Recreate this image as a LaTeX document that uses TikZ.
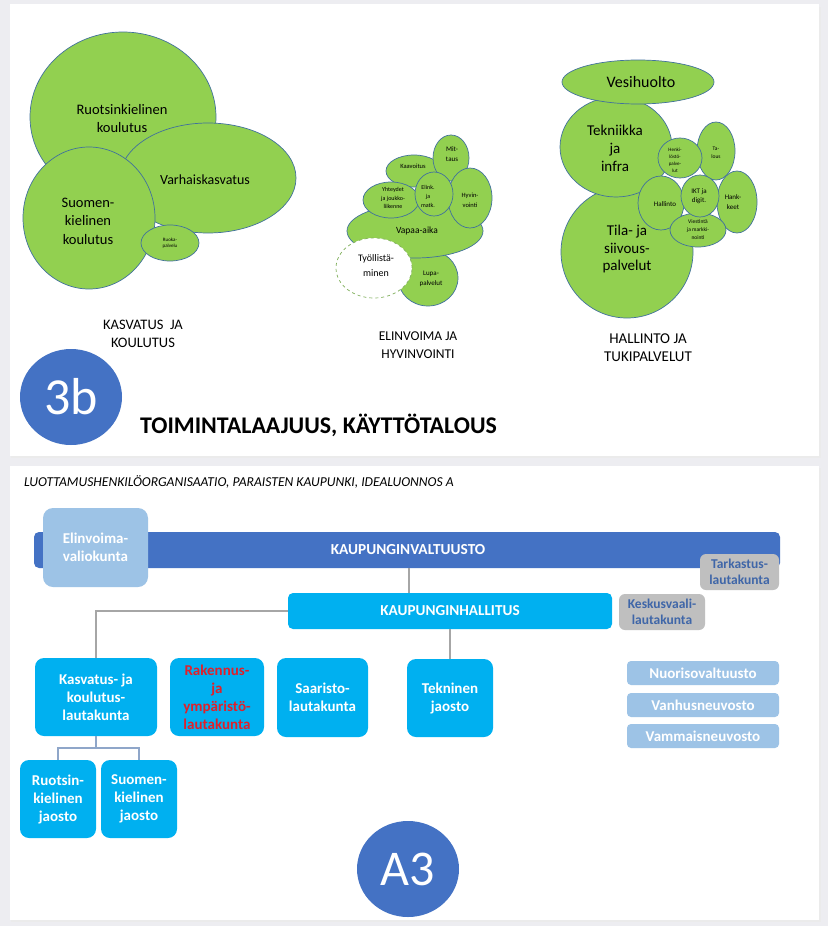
\documentclass[tikz,border=0pt]{standalone}
\usepackage{fontspec}
\setmainfont{Carlito}
\usetikzlibrary{shapes.geometric}
\definecolor{bg}{HTML}{EDEDF1}
\definecolor{leaf}{HTML}{92D050}
\definecolor{leafline}{HTML}{41719C}
\definecolor{accent}{HTML}{4472C4}
\definecolor{sky}{HTML}{00B0F0}
\definecolor{pale}{HTML}{9DC3E6}
\definecolor{greybox}{HTML}{BFBFBF}
\definecolor{greytext}{HTML}{3F66A8}
\definecolor{redtext}{HTML}{E0202A}
\definecolor{connA}{HTML}{A6A6A6}
\definecolor{connB}{HTML}{8FA6C9}
\definecolor{dashline}{HTML}{7FAF5A}
\newcommand\fsz[2]{\fontsize{#1}{#2}\selectfont}
\newcommand\blob[5]{\node[blob,minimum width=#4pt,minimum height=#5pt] (#1) at (#2,#3) {};}
\begin{document}
\begin{tikzpicture}[x=1pt,y=-1pt,
  blob/.style={ellipse,draw=leafline,fill=leaf,line width=0.7pt,inner sep=0pt},
  dblob/.style={ellipse,draw=dashline,fill=white,dashed,line width=0.7pt,inner sep=0pt},
  txt/.style={align=center,inner sep=0pt,text=black},
  panel/.style={fill=white,draw=none},
  orgbox/.style={rounded corners=9pt,fill=sky,inner sep=0pt,align=center,text=white,font=\bfseries\fsz{15}{18}},
  palebox/.style={rounded corners=4pt,fill=pale,inner sep=0pt,align=center,text=white,font=\bfseries\fsz{15}{18}},
  greyb/.style={rounded corners=6pt,fill=greybox,inner sep=0pt,align=center,text=greytext,font=\bfseries\fsz{13.5}{16}},
  connA/.style={draw=connA,line width=1.1pt},
  connB/.style={draw=connB,line width=1.1pt},
  badge/.style={ellipse,fill=accent,inner sep=0pt,text=white}]
\useasboundingbox (0,0) rectangle (828,926);
\fill[bg] (0,0) rectangle (828,926);
\fill[black!8] (11,7) rectangle (821,458);
\fill[black!8] (11,468) rectangle (821,922);
\node[panel,anchor=north west,minimum width=809pt,minimum height=452pt,inner sep=0pt] (toppanel) at (10,4) {};
\node[panel,anchor=north west,minimum width=809pt,minimum height=454pt,inner sep=0pt] (botpanel) at (10,466) {};

% ---------- left cluster
\blob{ruotk}{123}{117}{186}{170}
\blob{varh}{208}{178}{176}{110}
\blob{suomk}{89}{218}{132}{142}
\blob{ruoka}{170}{243}{58}{36}
\node[txt,font=\fsz{14.5}{18}] (t-ruotk) at (122,119) {Ruotsinkielinen\\koulutus};
\node[txt,font=\fsz{14}{18}] (t-varh) at (205,180) {Varhaiskasvatus};
\node[txt,font=\fsz{14.5}{18.5}] (t-suomk) at (88,221) {Suomen-\\kielinen\\koulutus};
\node[txt,font=\fsz{5}{6}] (t-ruoka) at (170,243) {Ruoka-\\palvelu};
\node[txt,font=\fsz{14.5}{18}] (l-kasv) at (143,334) {KASVATUS\ \ JA\\KOULUTUS};

% ---------- middle cluster
\blob{lupa}{428}{278}{60}{56}
\blob{vapaa}{415}{231}{136}{54}
\blob{kaav}{414}{171}{56}{32}
\blob{mitt}{451}{158}{36}{46}
\blob{hyvin}{470}{198}{44}{60}
\blob{yht}{391}{200}{56}{36}
\blob{elink}{434}{194}{38}{44}
\node[dblob,minimum width=76pt,minimum height=60pt] (tyoll) at (374,268) {};
\node[txt,font=\fsz{7}{10}] (t-mitt) at (452,154) {Mit-\\taus};
\node[txt,font=\fsz{6.5}{8}] (t-kaav) at (413,166) {Kaavoitus};
\node[txt,font=\fsz{6}{9}] (t-elink) at (428,196) {Elink.\\ja\\matk.};
\node[txt,font=\fsz{6}{8.7}] (t-yht) at (393,198) {Yhteydet\\ja joukko-\\liikenne};
\node[txt,font=\fsz{6.5}{10}] (t-hyvin) at (470,200) {Hyvin-\\vointi};
\node[txt,font=\fsz{9.5}{12}] (t-vapaa) at (417,231) {Vapaa-aika};
\node[txt,font=\fsz{7}{10}] (t-lupa) at (431,279) {Lupa-\\palvelut};
\node[txt,font=\fsz{10}{15}] (t-tyoll) at (376,266) {Työllistä-\\minen};
\node[txt,font=\fsz{13.5}{18}] (l-elin) at (418,345) {ELINVOIMA JA\\HYVINVOINTI};

% ---------- right cluster
\blob{tila}{627}{252}{132}{132}
\blob{tekn}{616}{147}{112}{100}
\blob{vesi}{638}{82}{152}{44}
\blob{halli}{661}{203}{46}{54}
\blob{talous}{716}{151}{38}{58}
\blob{hank}{737}{202}{40}{62}
\blob{henki}{680}{158}{44}{40}
\blob{viest}{698}{230}{56}{34}
\blob{ikt}{700}{196}{38}{42}
\node[txt,font=\fsz{16}{18}] (t-vesi) at (641,82) {Vesihuolto};
\node[txt,font=\fsz{15}{18}] (t-tekn) at (615,148) {Tekniikka\\ja\\infra};
\node[txt,font=\fsz{15}{17.5}] (t-tila) at (627,249) {Tila- ja\\siivous-\\palvelut};
\node[txt,font=\fsz{7}{9}] (t-halli) at (665,204) {Hallinto};
\node[txt,font=\fsz{5}{7}] (t-henki) at (675,160) {Henki-\\löstö-\\palve-\\lut};
\node[txt,font=\fsz{5.5}{8}] (t-talous) at (716,153) {Ta-\\lous};
\node[txt,font=\fsz{7}{10}] (t-hank) at (733,202) {Hank-\\keet};
\node[txt,font=\fsz{7}{9}] (t-ikt) at (699,196) {IKT ja\\digit.};
\node[txt,font=\fsz{5.5}{8}] (t-viest) at (698,230) {Viestintä\\ja markki-\\nointi};
\node[txt,font=\fsz{15}{18}] (l-hall) at (648,348) {HALLINTO JA\\TUKIPALVELUT};

% ---------- badge + title
\node[badge,minimum width=102pt,minimum height=96pt,font=\fsz{52}{52}] (b3) at (71,397) {3b};
\node[anchor=west,inner sep=0pt,font=\bfseries\fsz{23.9}{26}] (title) at (140,425) {TOIMINTALAAJUUS, KÄYTTÖTALOUS};

% ---------- bottom panel
\node[anchor=west,inner sep=0pt,font=\itshape\fsz{13.6}{15}] (head) at (24,482) {LUOTTAMUSHENKILÖORGANISAATIO, PARAISTEN KAUPUNKI, IDEALUONNOS A};

\node[rounded corners=5pt,fill=accent,minimum width=746pt,minimum height=36pt,inner sep=0pt] (valt) at (407,550) {};
\node[text=white,font=\bfseries\fsz{15.3}{16},inner sep=0pt] (t-valt) at (408,550) {KAUPUNGINVALTUUSTO};
\node[rounded corners=10pt,fill=pale,minimum width=105pt,minimum height=79pt,inner sep=0pt,align=center,text=white,font=\bfseries\fsz{15}{18}] (elinv) at (95.5,547.5) {Elinvoima-\\valiokunta};
\node[greyb,minimum width=79pt,minimum height=36pt] (tark) at (739.5,572) {Tarkastus-\\lautakunta};

\node[rounded corners=5pt,fill=sky,minimum width=324pt,minimum height=36pt,inner sep=0pt,text=white,font=\bfseries\fsz{15.2}{16}] (khall) at (450,611) {KAUPUNGINHALLITUS};
\node[greyb,minimum width=86pt,minimum height=36pt] (kesk) at (662,612) {Keskusvaali-\\lautakunta};

\node[orgbox,minimum width=122pt,minimum height=78pt] (kasv) at (96,697) {Kasvatus- ja\\koulutus-\\lautakunta};
\node[orgbox,minimum width=94pt,minimum height=78pt,text=redtext] (rak) at (217,697) {Rakennus-\\ja\\ympäristö-\\lautakunta};
\node[orgbox,minimum width=91pt,minimum height=79pt] (saar) at (322.5,697.5) {Saaristo-\\lautakunta};
\node[orgbox,minimum width=86pt,minimum height=78pt] (tekj) at (450,698) {Tekninen\\jaosto};
\node[orgbox,minimum width=76pt,minimum height=78pt] (ruotj) at (58,799) {Ruotsin-\\kielinen\\jaosto};
\node[orgbox,minimum width=76pt,minimum height=78pt] (suomj) at (139,799) {Suomen-\\kielinen\\jaosto};

\node[palebox,minimum width=152pt,minimum height=24pt] (nuor) at (703,673) {Nuorisovaltuusto};
\node[palebox,minimum width=152pt,minimum height=24pt] (vanh) at (703,705) {Vanhusneuvosto};
\node[palebox,minimum width=152pt,minimum height=24pt] (vamm) at (703,736) {Vammaisneuvosto};

\coordinate (cv) at (409,0);
\coordinate (kj) at (96,748);
\draw[connA] (cv |- valt.south) -- (cv |- khall.north);
\draw[connA] (khall.west) -| (kasv.north);
\draw[connA] (tekj.north |- khall.south) -- (tekj.north);
\draw[connB] (kasv.south) -- (kj);
\draw[connB] (ruotj.north) |- (kj) -| (suomj.north);

\node[badge,minimum width=102pt,minimum height=96pt,font=\fsz{50}{50}] (a3) at (408,869) {A3};
\end{tikzpicture}
\end{document}
